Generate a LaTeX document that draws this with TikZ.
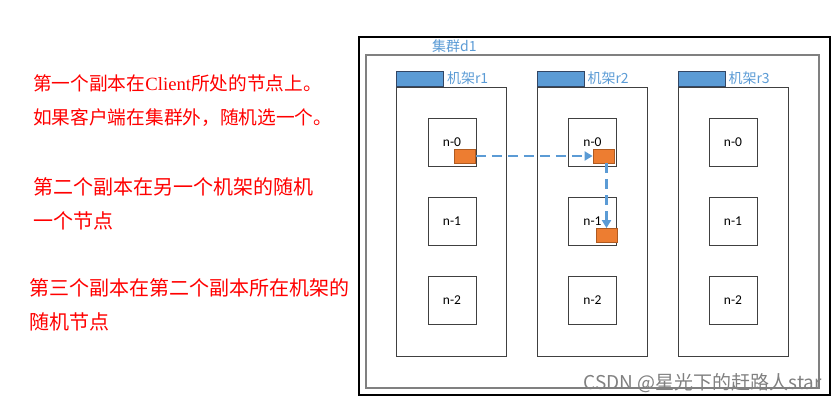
\documentclass[tikz,border=0pt]{standalone}
\usepackage{fontspec}
\setmainfont{Liberation Serif}
\newfontfamily\cjk{Noto Sans CJK SC}
\newfontfamily\calib{Carlito}
\usetikzlibrary{arrows.meta}
\definecolor{officeblue}{RGB}{91,155,213}
\definecolor{headerline}{RGB}{50,70,100}
\definecolor{replorange}{RGB}{237,125,49}
\definecolor{orangeline}{RGB}{174,90,33}
\definecolor{boxgray}{RGB}{64,64,64}
\begin{document}
\begin{tikzpicture}[x=1pt, y=-1pt,
    note/.style={anchor=west, text=red, inner sep=0pt, font=\cjk\fontsize{20}{20}\selectfont},
    smallnote/.style={note, font=\cjk\fontsize{18.7}{18.7}\selectfont},
    rackbox/.style={draw=boxgray, line width=1pt, minimum width=110pt, minimum height=269pt, inner sep=0pt},
    rackhead/.style={draw=headerline, fill=officeblue, line width=0.8pt, minimum width=47pt, minimum height=15pt, inner sep=0pt, anchor=south west},
    racklabel/.style={anchor=west, text=officeblue, inner sep=0pt, font=\cjk\fontsize{14}{14}\selectfont},
    hostbox/.style={draw=boxgray, line width=1pt, minimum width=48pt, minimum height=48pt, inner sep=0pt, font=\calib\fontsize{13.5}{13.5}\selectfont},
    replica/.style={draw=orangeline, fill=replorange, line width=0.8pt, minimum width=21pt, minimum height=14pt, inner sep=0pt},
    copyflow/.style={draw=officeblue, line width=2.7pt, dash pattern=on 10pt off 6pt, -{Triangle[length=8pt,width=9pt]}}]
        \useasboundingbox (0,0) rectangle (838,404);

        % Texte links
        \node[smallnote] (t1) at (33,83) {第一个副本在{\rmfamily Client}所处的节点上。};
        \node[smallnote] (t2) at (33,118) {如果客户端在集群外，随机选一个。};
        \node[note] (t3) at (33,187) {第二个副本在另一个机架的随机};
        \node[note] (t4) at (33,221) {一个节点};
        \node[note] (t5) at (29,288) {第三个副本在第二个副本所在机架的};
        \node[note] (t6) at (29,322) {随机节点};

        % Rahmen und Cluster
        \draw[black, line width=1.2pt] (359,37) rectangle (830,395);
        \draw[gray, line width=1.5pt] (366,55) rectangle (819,388);
        \node[racklabel] (d1) at (432,46) {集群d1};

        % Racks
        \node[rackbox] (r1) at (451.5,221.5) {};
        \node[rackbox] (r2) at (592,221.5) {};
        \node[rackbox] (r3) at (733,221.5) {};

        \node[rackhead] (h1) at (r1.north west) {};
        \node[rackhead] (h2) at (r2.north west) {};
        \node[rackhead] (h3) at (r3.north west) {};

        \node[racklabel, xshift=3pt] (l1) at (h1.east) {机架r1};
        \node[racklabel, xshift=3pt] (l2) at (h2.east) {机架r2};
        \node[racklabel, xshift=3pt] (l3) at (h3.east) {机架r3};

        % Knoten
        \node[hostbox] (r1n0) at (452,142) {n-0};
        \node[hostbox] (r1n1) at (452,221) {n-1};
        \node[hostbox] (r1n2) at (452,300.5) {n-2};

        \node[hostbox] (r2n0) at (592.5,142) {n-0};
        \node[hostbox] (r2n1) at (592.5,221) {n-1};
        \node[hostbox] (r2n2) at (592.5,300.5) {n-2};

        \node[hostbox] (r3n0) at (733,142) {n-0};
        \node[hostbox] (r3n1) at (733,221) {n-1};
        \node[hostbox] (r3n2) at (733,300.5) {n-2};

        % Replikate
        \node[replica] (c1) at (465,156) {};
        \node[replica] (c2) at (603.5,156) {};
        \node[replica] (c3) at (606.5,235.5) {};

        \draw[copyflow] (c1.east) -- (c2.west);
        \draw[copyflow] (c2.south -| c3) -- (c3.north);

        % Wasserzeichen
        \node[anchor=east, text=gray, inner sep=0pt, font=\cjk\fontsize{19}{19}\selectfont] (wm) at (822,383) {CSDN @星光下的赶路人star};
    \end{tikzpicture}
\end{document}
